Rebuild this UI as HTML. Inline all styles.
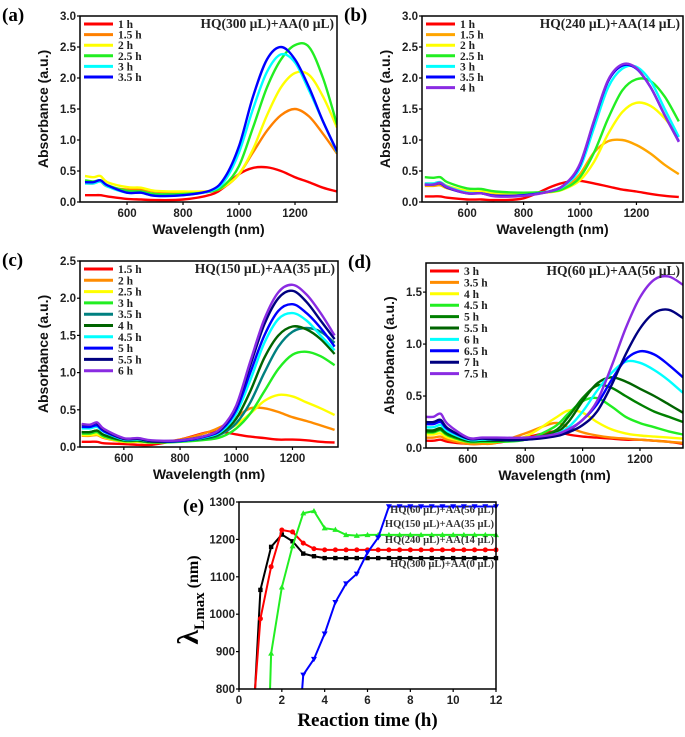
<!DOCTYPE html>
<html><head><meta charset="utf-8">
<style>
body{margin:0;background:#fff;}
svg{display:block;}
.tk{font-family:"Liberation Sans",sans-serif;font-weight:bold;font-size:11.5px;fill:#222;}
.ttl{font-family:"Liberation Sans",sans-serif;font-weight:bold;font-size:14px;fill:#111;}
.lab{font-family:"Liberation Serif",serif;font-weight:bold;font-size:19px;fill:#000;}
.leg{font-family:"Liberation Serif",serif;font-weight:bold;font-size:11.5px;fill:#222;}
.ann{font-family:"Liberation Serif",serif;font-weight:bold;font-size:13.5px;fill:#222;}
.eleg{font-family:"Liberation Serif",serif;font-weight:bold;font-size:10.5px;fill:#333;}
</style></head>
<body>
<svg id="fig" width="685" height="737" viewBox="0 0 685 737" xmlns="http://www.w3.org/2000/svg"></svg>
<script>
// ---- shared wavelength grid ----
const wl = [450,480,505,530,600,650,700,800,900,950,1000,1050,1100,1150,1200,1250,1300,1350];
// ---- panel (a) ----
const aLabels = ["1 h","1.5 h","2 h","2.5 h","3 h","3.5 h"];
const a1 = [0.11,0.11,0.11,0.09,0.05,0.04,0.03,0.04,0.12,0.25,0.45,0.55,0.56,0.5,0.4,0.32,0.23,0.17];
const a15 = [0.3,0.3,0.33,0.25,0.2,0.2,0.17,0.15,0.17,0.25,0.45,0.8,1.15,1.4,1.5,1.38,1.1,0.78];
const a2 = [0.42,0.4,0.42,0.32,0.24,0.23,0.18,0.17,0.18,0.26,0.45,0.85,1.4,1.85,2.08,2.05,1.7,1.2];
const a25 = [0.35,0.33,0.35,0.27,0.18,0.17,0.13,0.13,0.17,0.28,0.58,1.2,1.85,2.3,2.53,2.5,2.0,1.25];
const a3 = [0.3,0.3,0.33,0.25,0.15,0.15,0.1,0.11,0.18,0.35,0.8,1.5,2.1,2.38,2.25,1.8,1.3,0.8];
const a35 = [0.32,0.32,0.35,0.27,0.15,0.15,0.1,0.11,0.19,0.4,0.9,1.7,2.3,2.5,2.3,1.85,1.3,0.82];
// ---- panel (b) ----
const bLabels = ["1 h","1.5 h","2 h","2.5 h","3 h","3.5 h","4 h"];
const b1 = [0.09,0.09,0.09,0.07,0.04,0.04,0.03,0.06,0.25,0.32,0.34,0.3,0.25,0.2,0.17,0.13,0.1,0.08];
const b15 = [0.26,0.26,0.27,0.22,0.15,0.15,0.13,0.13,0.17,0.24,0.45,0.8,0.98,1.0,0.92,0.78,0.6,0.45];
const b2 = [0.3,0.3,0.32,0.26,0.18,0.17,0.15,0.14,0.16,0.22,0.35,0.65,1.1,1.45,1.6,1.55,1.35,1.05];
const b25 = [0.4,0.39,0.4,0.32,0.22,0.21,0.17,0.15,0.17,0.23,0.4,0.8,1.35,1.8,1.98,1.95,1.7,1.3];
const b3 = [0.3,0.3,0.32,0.25,0.15,0.14,0.1,0.11,0.18,0.28,0.55,1.2,1.85,2.15,2.18,1.95,1.5,1.05];
const b35 = [0.28,0.28,0.3,0.23,0.14,0.14,0.1,0.11,0.18,0.3,0.6,1.3,1.95,2.2,2.15,1.85,1.4,0.98];
const b4 = [0.28,0.28,0.31,0.24,0.14,0.14,0.09,0.1,0.18,0.3,0.62,1.32,1.97,2.22,2.16,1.85,1.4,0.97];
// ---- panel (c) ----
const cLabels = ["1.5 h","2 h","2.5 h","3 h","3.5 h","4 h","4.5 h","5 h","5.5 h","6 h"];
const c15 = [0.07,0.07,0.07,0.05,0.04,0.03,0.03,0.1,0.2,0.2,0.17,0.14,0.12,0.1,0.1,0.09,0.07,0.06];
const c2 = [0.15,0.15,0.16,0.12,0.07,0.07,0.06,0.1,0.2,0.28,0.4,0.52,0.52,0.47,0.4,0.35,0.29,0.23];
const c25 = [0.16,0.16,0.17,0.13,0.07,0.07,0.06,0.08,0.13,0.2,0.3,0.45,0.62,0.7,0.68,0.6,0.52,0.43];
const c3 = [0.18,0.18,0.2,0.14,0.08,0.08,0.06,0.07,0.1,0.14,0.25,0.45,0.75,1.05,1.24,1.28,1.22,1.1];
const c35 = [0.2,0.2,0.22,0.16,0.09,0.09,0.07,0.08,0.12,0.18,0.32,0.6,1.0,1.35,1.55,1.6,1.55,1.4];
const c4 = [0.2,0.2,0.22,0.16,0.09,0.09,0.07,0.08,0.13,0.2,0.38,0.75,1.2,1.5,1.62,1.58,1.45,1.25];
const c45 = [0.25,0.25,0.27,0.2,0.1,0.1,0.08,0.08,0.14,0.22,0.45,0.9,1.4,1.72,1.8,1.7,1.5,1.3];
const c5 = [0.27,0.27,0.29,0.21,0.11,0.11,0.08,0.08,0.15,0.24,0.5,1.0,1.5,1.83,1.92,1.8,1.6,1.35];
const c55 = [0.3,0.3,0.32,0.23,0.11,0.11,0.08,0.09,0.16,0.26,0.55,1.1,1.65,2.0,2.1,1.95,1.7,1.45];
const c6 = [0.31,0.3,0.33,0.24,0.12,0.12,0.09,0.09,0.16,0.27,0.56,1.15,1.72,2.08,2.18,2.05,1.8,1.5];
// ---- panel (d) ----
const dLabels = ["3 h","3.5 h","4 h","4.5 h","5 h","5.5 h","6 h","6.5 h","7 h","7.5 h"];
const d3 = [0.07,0.07,0.08,0.06,0.04,0.04,0.05,0.1,0.16,0.13,0.11,0.1,0.09,0.08,0.08,0.07,0.06,0.04];
const d35 = [0.1,0.1,0.11,0.08,0.04,0.04,0.05,0.14,0.24,0.2,0.15,0.12,0.1,0.09,0.08,0.07,0.06,0.05];
const d4 = [0.13,0.13,0.14,0.1,0.06,0.06,0.06,0.11,0.28,0.36,0.34,0.25,0.18,0.14,0.12,0.11,0.1,0.09];
const d45 = [0.15,0.15,0.17,0.12,0.06,0.06,0.06,0.08,0.2,0.33,0.45,0.48,0.4,0.3,0.24,0.2,0.16,0.13];
const d5 = [0.16,0.16,0.18,0.13,0.07,0.07,0.07,0.08,0.16,0.3,0.48,0.6,0.58,0.5,0.42,0.35,0.3,0.25];
const d55 = [0.17,0.17,0.19,0.14,0.07,0.07,0.07,0.08,0.14,0.25,0.45,0.62,0.68,0.64,0.57,0.5,0.42,0.34];
const d6 = [0.2,0.2,0.22,0.16,0.08,0.08,0.08,0.08,0.13,0.2,0.35,0.55,0.72,0.83,0.82,0.75,0.65,0.53];
const d65 = [0.23,0.23,0.25,0.18,0.09,0.09,0.08,0.08,0.12,0.17,0.27,0.42,0.65,0.85,0.93,0.9,0.8,0.68];
const d7 = [0.25,0.25,0.27,0.19,0.09,0.09,0.08,0.08,0.11,0.15,0.22,0.35,0.6,0.9,1.15,1.3,1.33,1.25];
const d75 = [0.3,0.3,0.33,0.23,0.1,0.1,0.1,0.1,0.13,0.18,0.27,0.45,0.78,1.15,1.45,1.62,1.65,1.57];
// ---- panel (e) ----
const eTicksX = [0,2,4,6,8,10,12];
const eTicksY = [800,900,1000,1100,1200,1300];
const eLabels = ["HQ(300 µL)+AA(0 µL)","HQ(240 µL)+AA(14 µL)","HQ(150 µL)+AA(35 µL)","HQ(60 µL)+AA(56 µL)"];
const eT300 = [0.75,1,1.5,2,2.5,3,3.5,4,4.5,5,5.5,6,6.5,7,7.5,8,8.5,9,9.5,10,10.5,11,11.5,12];
const eV300 = [800,1065,1180,1213,1195,1162,1155,1150,1150,1150,1150,1150,1150,1150,1150,1150,1150,1150,1150,1150,1150,1150,1150,1150];
const eT240 = [0.75,1,1.5,2,2.5,3,3.5,4,4.5,5,5.5,6,6.5,7,7.5,8,8.5,9,9.5,10,10.5,11,11.5,12];
const eV240 = [800,988,1127,1225,1220,1190,1175,1172,1172,1172,1172,1172,1172,1172,1172,1172,1172,1172,1172,1172,1172,1172,1172,1172];
const eT150 = [1.45,1.5,2,2.5,3,3.5,4,4.5,5,5.5,6,6.5,7,7.5,8,8.5,9,9.5,10,10.5,11,11.5,12];
const eV150 = [800,895,1072,1182,1270,1276,1230,1226,1212,1210,1212,1212,1212,1212,1212,1212,1212,1212,1212,1212,1212,1212,1212];
const eT60 = [2.95,3,3.5,4,4.5,5,5.5,6,6.5,7,7.5,8,8.5,9,9.5,10,10.5,11,11.5,12];
const eV60 = [800,838,880,948,1032,1082,1108,1165,1205,1288,1288,1288,1288,1288,1288,1288,1288,1288,1288,1288];

const NS="http://www.w3.org/2000/svg";
const svg=document.getElementById('fig');
function mk(tag,attrs,parent){const e=document.createElementNS(NS,tag);for(const k in attrs)e.setAttribute(k,attrs[k]);(parent||svg).appendChild(e);return e;}
function txt(s,x,y,cls,anchor,parent){const t=mk('text',{x:x,y:y,class:cls,'text-anchor':anchor||'start'},parent);t.textContent=s;return t;}
function smooth(pts){let d='M'+pts[0][0].toFixed(1)+','+pts[0][1].toFixed(1);
 for(let i=0;i<pts.length-1;i++){const p0=pts[i-1]||pts[i],p1=pts[i],p2=pts[i+1],p3=pts[i+2]||p2;
  const c1=[p1[0]+(p2[0]-p0[0])/6,p1[1]+(p2[1]-p0[1])/6],c2=[p2[0]-(p3[0]-p1[0])/6,p2[1]-(p3[1]-p1[1])/6];
  d+=' C'+c1[0].toFixed(1)+','+c1[1].toFixed(1)+' '+c2[0].toFixed(1)+','+c2[1].toFixed(1)+' '+p2[0].toFixed(1)+','+p2[1].toFixed(1);}
 return d;}

function spectrum(P){
 const g=mk('g',{});
 
 
 const sx=v=>P.x0+(v-P.xd[0])/(P.xd[1]-P.xd[0])*(P.x1-P.x0);
 const sy=v=>P.y1-(v-P.yd[0])/(P.yd[1]-P.yd[0])*(P.y1-P.y0);
 const cid='clip'+P.id;
 const cp=mk('clipPath',{id:cid},g);mk('rect',{x:P.x0,y:P.y0,width:P.x1-P.x0,height:P.y1-P.y0},cp);
 const lines=mk('g',{'clip-path':'url(#'+cid+')'},g);
 P.series.forEach((s,i)=>{
  const pts=wl.map((w,j)=>[sx(w),sy(s[j])]);
  const p=mk('path',{d:smooth(pts),fill:'none',stroke:P.colors[i],'stroke-width':2.4,'stroke-linejoin':'round'},lines);
  
  
 });
 mk('rect',{x:P.x0,y:P.y0,width:P.x1-P.x0,height:P.y1-P.y0,fill:'none',stroke:'#000','stroke-width':1.5},g);
 P.xt.forEach(v=>{const x=sx(v);mk('line',{x1:x,x2:x,y1:P.y1,y2:P.y1+3,stroke:'#000','stroke-width':1.2},g);
  const t=txt(String(v),x,P.y1+15,'tk','middle',g);});
 P.yt.forEach(v=>{const y=sy(v);mk('line',{x1:P.x0-3,x2:P.x0,y1:y,y2:y,stroke:'#000','stroke-width':1.2},g);
  const t=txt(v.toFixed(1),P.x0-4,y+4,'tk','end',g);});
 const xt=txt('Wavelength (nm)',(P.x0+P.x1)/2,P.y1+32,'ttl','middle',g);
 
 const yt=txt('Absorbance (a.u.)',0,0,'ttl','middle',g);
 yt.setAttribute('transform','translate('+(P.x0-32)+','+((P.y0+P.y1)/2)+') rotate(-90)');
 
 const pl=txt(P.tag,P.x0-78,P.y0+5,'lab','start',g);
 
 const an=txt(P.ann,P.x1-3,P.y0+12,'ann','end',g);
 
 P.labels.forEach((l,i)=>{const y=P.y0+8+i*P.ls;
  const le=mk('g',{},g);
  
  mk('line',{x1:P.x0+4,x2:P.x0+33,y1:y,y2:y,stroke:P.colors[i],'stroke-width':3},le);
  txt(l,P.x0+38,y+4,'leg','start',le);});
}
spectrum({id:'a',name:'panel-a',tag:'(a)',ann:'HQ(300 µL)+AA(0 µL)',x0:80,x1:337,y0:16,y1:202,xd:[432,1350],yd:[0,3],
 xt:[600,800,1000,1200],yt:[0,0.5,1,1.5,2,2.5,3],series:[a1,a15,a2,a25,a3,a35],labels:aLabels,ls:10.6,
 colors:['#ff0000','#ff8000','#ffff00','#22ee22','#00ffff','#0000ff']});
spectrum({id:'b',name:'panel-b',tag:'(b)',ann:'HQ(240 µL)+AA(14 µL)',x0:422,x1:683,y0:16,y1:202,xd:[440,1365],yd:[0,3],
 xt:[600,800,1000,1200],yt:[0,0.5,1,1.5,2,2.5,3],series:[b1,b15,b2,b25,b3,b35,b4],labels:bLabels,ls:10.6,
 colors:['#ff0000','#ffa500','#ffff00','#22ee22','#00ffff','#0000ff','#8a2be2']});
spectrum({id:'c',name:'panel-c',tag:'(c)',ann:'HQ(150 µL)+AA(35 µL)',x0:80,x1:338,y0:261,y1:447,xd:[444,1362],yd:[0,2.5],
 xt:[600,800,1000,1200],yt:[0,0.5,1,1.5,2,2.5],series:[c15,c2,c25,c3,c35,c4,c45,c5,c55,c6],labels:cLabels,ls:11.3,
 colors:['#ff0000','#ff8c00','#ffff00','#22ee22','#008080','#006400','#00ffff','#0000ff','#000080','#8a2be2']});
spectrum({id:'d',name:'panel-d',tag:'(d)',ann:'HQ(60 µL)+AA(56 µL)',x0:426,x1:683,y0:263,y1:448,xd:[454,1350],yd:[0,1.78],
 xt:[600,800,1000,1200],yt:[0,0.5,1,1.5],series:[d3,d35,d4,d45,d5,d55,d6,d65,d7,d75],labels:dLabels,ls:11.4,
 colors:['#ff0000','#ff8c00','#ffff00','#22ee22','#008000','#006400','#00ffff','#0000ff','#000080','#8a2be2']});

// ---- panel (e) ----
(function(){
 const g=mk('g',{});
 
 
 const x0=239,x1=496,y0=502,y1=689;
 const sx=v=>x0+v/12*(x1-x0), sy=v=>y1-(v-800)/500*(y1-y0);
 const cp=mk('clipPath',{id:'clipe'},g);mk('rect',{x:x0,y:y0-6,width:x1-x0+6,height:y1-y0+6},cp);
 const lines=mk('g',{'clip-path':'url(#clipe)'},g);
 const sets=[[eT300,eV300,'#000000','sq'],[eT240,eV240,'#ff0000','ci'],[eT150,eV150,'#22ee22','up'],[eT60,eV60,'#0000ff','dn']];
 sets.forEach((s,k)=>{
  const pts=s[0].map((t,i)=>[sx(t),sy(s[1][i])]);
  const p=mk('polyline',{points:pts.map(p=>p.join(',')).join(' '),fill:'none',stroke:s[2],'stroke-width':2},lines);
  
  
  pts.slice(1).forEach(([x,y])=>{let m;
   if(s[3]=='sq')m=mk('rect',{x:x-2.2,y:y-2.2,width:4.4,height:4.4,fill:s[2]},lines);
   else if(s[3]=='ci')m=mk('circle',{cx:x,cy:y,r:2.5,fill:s[2]},lines);
   else if(s[3]=='up')m=mk('polygon',{points:`${x},${y-3} ${x-3},${y+2.2} ${x+3},${y+2.2}`,fill:s[2]},lines);
   else m=mk('polygon',{points:`${x},${y+3} ${x-3},${y-2.2} ${x+3},${y-2.2}`,fill:s[2]},lines);
   
   
  });
 });
 mk('rect',{x:x0,y:y0,width:x1-x0,height:y1-y0,fill:'none',stroke:'#000','stroke-width':1.5},g);
 eTicksX.forEach(v=>{const x=sx(v);mk('line',{x1:x,x2:x,y1:y1,y2:y1+3,stroke:'#000','stroke-width':1.2},g);
  const t=txt(String(v),x,y1+15,'tk','middle',g);});
 eTicksY.forEach(v=>{const y=sy(v);mk('line',{x1:x0-3,x2:x0,y1:y,y2:y,stroke:'#000','stroke-width':1.2},g);
  const t=txt(String(v),x0-4,y+4,'tk','end',g);});
 const xt=txt('Reaction time (h)',(x0+x1)/2,726,'lab','middle',g);
 
 const yt=mk('text',{transform:'translate(198,600) rotate(-90)','text-anchor':'middle','font-family':'Liberation Serif, serif','font-weight':'bold',fill:'#000'},g);
 
 yt.innerHTML='<tspan font-size="30">λ</tspan><tspan font-size="15" dy="6">Lmax</tspan><tspan font-size="16" dy="-6"> (nm)</tspan>';
 const pl=txt('(e)',183,512,'lab','start',g);
 
 const ly=[567,543,527,513];
 eLabels.forEach((l,i)=>{const t=txt(l,x1-2,ly[i],'eleg','end',g);
  });
})();
</script>
</body></html>
